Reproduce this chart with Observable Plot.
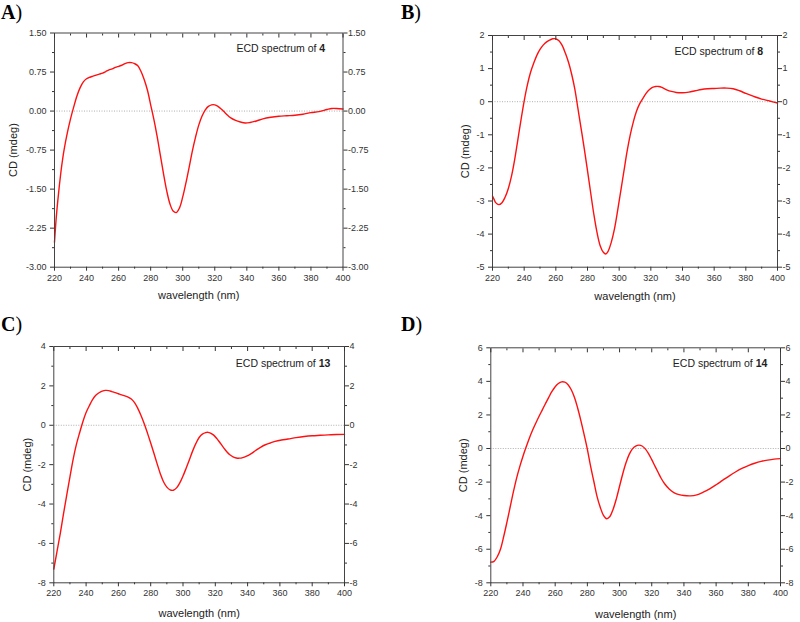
<!DOCTYPE html>
<html>
<head>
<meta charset="utf-8">
<script src="https://cdn.jsdelivr.net/npm/d3@7"></script>
<script src="https://cdn.jsdelivr.net/npm/@observablehq/plot@0.6"></script>
<style>
  body { margin: 0; background: #fff; }
  #wrap { position: relative; width: 800px; height: 622px; overflow: hidden; background: #fff; }
  .panel { position: absolute; }
  .tag { position: absolute; font-family: "Liberation Serif", "Times New Roman", serif; font-size: 20px; line-height: 1; color: #000; }
  .tag b { font-weight: bold; }
</style>
</head>
<body>
<div id="wrap"></div>
<script>
// ---- shared tick labels ----
const xMajorTicks = [220, 240, 260, 280, 300, 320, 340, 360, 380, 400];
const xMinorTicks = [230, 250, 270, 290, 310, 330, 350, 370, 390];

// ---- Panel A: ECD spectrum of 4 ----
const wlA = [220,221,222,223,224,225,226,228,230,232,234,236,238,240,242,244,246,248,250,252,254,256,258,260,262,264,266,268,270,272,274,276,278,280,282,284,286,288,290,292,294,296,298,300,302,304,306,308,310,312,314,316,318,320,322,324,326,328,330,333,336,339,342,346,350,355,360,365,370,375,380,385,390,393,396,400];
const cdA = [-2.52,-2.08,-1.74,-1.44,-1.17,-0.94,-0.74,-0.42,-0.15,0.08,0.29,0.45,0.56,0.62,0.65,0.67,0.69,0.71,0.73,0.76,0.79,0.81,0.84,0.86,0.88,0.91,0.93,0.93,0.91,0.87,0.76,0.6,0.4,0.12,-0.16,-0.48,-0.84,-1.2,-1.53,-1.78,-1.92,-1.95,-1.86,-1.65,-1.38,-1.08,-0.77,-0.5,-0.27,-0.1,0.02,0.09,0.12,0.12,0.09,0.04,-0.02,-0.08,-0.13,-0.18,-0.21,-0.23,-0.22,-0.19,-0.15,-0.12,-0.1,-0.09,-0.08,-0.06,-0.03,-0.01,0.03,0.05,0.05,0.04];
const yTicksA = [-3, -2.25, -1.5, -0.75, 0, 0.75, 1.5];
const yMinorA = [-2.625, -1.875, -1.125, -0.375, 0.375, 1.125];

// ---- Panel B: ECD spectrum of 8 ----
const wlB = [220,221,222,224,226,228,230,232,234,236,238,240,242,244,246,248,250,252,254,256,258,260,262,264,266,268,270,272,274,276,278,280,282,284,286,288,290,291.5,293,295,297,299,301,303,305,307,309,311,313,315,317,319,321,323,325,327,330,333,336,340,344,348,352,356,360,364,368,372,376,380,385,390,395,400];
const cdB = [-2.85,-2.95,-3.05,-3.11,-3.05,-2.88,-2.62,-2.25,-1.75,-1.15,-0.55,0.02,0.5,0.88,1.16,1.4,1.58,1.71,1.8,1.86,1.9,1.9,1.84,1.7,1.47,1.19,0.83,0.38,-0.22,-0.82,-1.43,-2.08,-2.75,-3.4,-3.95,-4.35,-4.55,-4.6,-4.52,-4.25,-3.85,-3.3,-2.7,-2.1,-1.5,-1.0,-0.6,-0.28,-0.06,0.1,0.25,0.36,0.43,0.46,0.46,0.43,0.36,0.31,0.28,0.27,0.29,0.33,0.37,0.39,0.4,0.41,0.41,0.39,0.33,0.25,0.16,0.08,0.02,-0.04];
const yTicksB = [-5, -4, -3, -2, -1, 0, 1, 2];
const yMinorB = [-4.5, -3.5, -2.5, -1.5, -0.5, 0.5, 1.5];

// ---- Panel C: ECD spectrum of 13 ----
const wlC = [220,222,224,226,228,230,232,234,236,238,240,242,244,246,248,250,252,254,256,258,260,262,264,266,268,270,272,274,276,278,280,282,284,286,288,290,292,294,296,298,300,302,304,306,308,310,312,314,315.5,317,319,321,323,325,327,329,331,333,335,337,339,342,345,348,351,354,357,361,365,370,375,380,385,390,395,400];
const cdC = [-7.3,-6.4,-5.5,-4.5,-3.55,-2.62,-1.72,-0.97,-0.38,0.18,0.65,0.99,1.3,1.52,1.65,1.73,1.77,1.76,1.71,1.66,1.6,1.54,1.49,1.43,1.33,1.15,0.86,0.5,0.08,-0.4,-0.9,-1.42,-1.96,-2.47,-2.88,-3.14,-3.28,-3.3,-3.18,-2.93,-2.58,-2.17,-1.74,-1.3,-0.92,-0.62,-0.45,-0.37,-0.36,-0.4,-0.5,-0.68,-0.9,-1.12,-1.33,-1.5,-1.6,-1.66,-1.67,-1.64,-1.58,-1.45,-1.28,-1.12,-0.99,-0.9,-0.82,-0.75,-0.7,-0.63,-0.57,-0.53,-0.51,-0.49,-0.47,-0.46];
const yTicksC = [-8, -6, -4, -2, 0, 2, 4];
const yMinorC = [-7, -5, -3, -1, 1, 3];

// ---- Panel D: ECD spectrum of 14 ----
const wlD = [220,222,224,226,228,230,232,234,236,238,240,242,244,246,248,250,252,254,256,258,260,262,264,266,268,270,272,274,276,278,280,282,284,286,288,290,292,294,296,298,300,302,304,306,308,310,312,314,316,318,320,322,324,326,328,331,334,337,340,344,348,352,356,360,364,368,372,376,380,384,388,392,396,400];
const cdD = [-6.77,-6.72,-6.45,-6.0,-5.25,-4.4,-3.5,-2.6,-1.78,-1.08,-0.46,0.1,0.63,1.1,1.52,1.92,2.3,2.68,3.05,3.4,3.68,3.87,3.97,3.95,3.8,3.5,3.04,2.4,1.65,0.82,-0.05,-1.05,-1.95,-2.85,-3.5,-3.98,-4.18,-4.05,-3.62,-3.0,-2.25,-1.5,-0.85,-0.35,-0.02,0.14,0.2,0.15,-0.02,-0.3,-0.66,-1.05,-1.43,-1.8,-2.1,-2.43,-2.64,-2.75,-2.8,-2.82,-2.76,-2.6,-2.4,-2.16,-1.9,-1.64,-1.4,-1.19,-1.02,-0.88,-0.77,-0.69,-0.63,-0.6];
const yTicksD = [-8, -6, -4, -2, 0, 2, 4, 6];
const yMinorD = [-7, -5, -3, -1, 1, 3, 5];

const panels = [
  {tag: "A", id: "4", left: 0, top: 0, h: 310, wl: wlA, cd: cdA, yDomain: [-3, 1.5], yTicks: yTicksA, yMinor: yMinorA, fmt: d => d.toFixed(2),
   m: {l: 54, r: 57.5, t: 32.5, b: 43.3}, ylab: 40.7, xlab: 28, ecd: 16, tagTop: 1.5},
  {tag: "B", id: "8", left: 400, top: 0, h: 310, wl: wlB, cd: cdB, yDomain: [-5, 2], yTicks: yTicksB, yMinor: yMinorB, fmt: d => String(d),
   m: {l: 92, r: 23, t: 35, b: 43.3}, ylab: 27, xlab: 29.3, ecd: 16, tagTop: 1.5},
  {tag: "C", id: "13", left: 0, top: 310, h: 312, wl: wlC, cd: cdC, yDomain: [-8, 4], yTicks: yTicksC, yMinor: yMinorC, fmt: d => String(d),
   m: {l: 53.3, r: 56, t: 36, b: 39.7}, ylab: 26.6, xlab: 31, ecd: 17, tagTop: 3.5},
  {tag: "D", id: "14", left: 400, top: 310, h: 312, wl: wlD, cd: cdD, yDomain: [-8, 6], yTicks: yTicksD, yMinor: yMinorD, fmt: d => String(d),
   m: {l: 90.3, r: 20, t: 37.3, b: 39.7}, ylab: 27, xlab: 31.7, ecd: 16, tagTop: 3.5}
];

const wrap = document.getElementById("wrap");
const none = () => "";

for (const p of panels) {
  const data = p.wl.map((w, i) => ({w, v: p.cd[i]}));
  const svg = Plot.plot({
    width: 400,
    height: p.h,
    marginLeft: p.m.l, marginRight: p.m.r, marginTop: p.m.t, marginBottom: p.m.b,
    style: {fontFamily: "'Liberation Sans', Arial, sans-serif", fontSize: "9px", color: "#333", background: "transparent", overflow: "visible"},
    x: {domain: [220, 400]},
    y: {domain: p.yDomain},
    marks: [
      Plot.ruleY([0], {stroke: "#9a9a9a", strokeWidth: 0.8, strokeDasharray: "1,1.5"}),
      Plot.line(data, {x: "w", y: "v", stroke: "#ff1010", strokeWidth: 1.4, curve: "catmull-rom"}),
      Plot.frame({stroke: "#444", strokeWidth: 1}),
      Plot.axisX({ticks: xMajorTicks, tickSize: 4, tickPadding: 3, tickFormat: d => String(d), label: null}),
      Plot.axisX({ticks: xMinorTicks, tickSize: 2, tickFormat: none, label: null}),
      Plot.axisX({anchor: "top", ticks: xMajorTicks, tickSize: -4, tickFormat: none, label: null}),
      Plot.axisX({anchor: "top", ticks: xMinorTicks, tickSize: -2, tickFormat: none, label: null}),
      Plot.axisY({ticks: p.yTicks, tickSize: 4, tickPadding: 4, tickFormat: p.fmt, label: null}),
      Plot.axisY({ticks: p.yMinor, tickSize: 2, tickFormat: none, label: null}),
      Plot.axisY({anchor: "right", ticks: p.yTicks, tickSize: 4, tickPadding: 1, tickFormat: p.fmt, label: null}),
      Plot.axisY({anchor: "right", ticks: p.yMinor, tickSize: 2, tickFormat: none, label: null}),
      Plot.text(["CD (mdeg)"], {frameAnchor: "left", dx: -p.ylab, rotate: -90, fontSize: 11, textAnchor: "middle", lineAnchor: "middle", fill: "#222"}),
      Plot.text(["wavelength (nm)"], {frameAnchor: "bottom", dy: p.xlab, fontSize: 11, lineAnchor: "middle", fill: "#222"}),
      Plot.text(["ECD spectrum of "], {frameAnchor: "top-left", dx: 182, dy: p.ecd, fontSize: 10.5, textAnchor: "start", lineAnchor: "middle", fill: "#222"})
    ]
  });
  // bold compound number after the caption text
  d3.select(svg).selectAll("text")
    .filter(function() { return this.textContent === "ECD spectrum of "; })
    .append("tspan").attr("font-weight", "bold").text(p.id);

  const holder = document.createElement("div");
  holder.className = "panel";
  holder.style.left = p.left + "px";
  holder.style.top = p.top + "px";
  holder.appendChild(svg);
  wrap.appendChild(holder);

  const tag = document.createElement("div");
  tag.className = "tag";
  tag.style.left = (p.left + 1) + "px";
  tag.style.top = (p.top + p.tagTop) + "px";
  tag.innerHTML = "<b>" + p.tag + "</b>)";
  wrap.appendChild(tag);
}
</script>
</body>
</html>
